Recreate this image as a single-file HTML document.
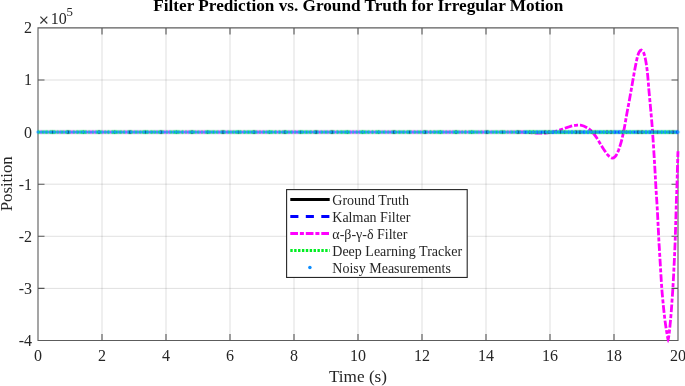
<!DOCTYPE html>
<html><head><meta charset="utf-8"><style>
html,body{margin:0;padding:0;background:#fff;}
svg{display:block;will-change:transform;}
text{font-family:"Liberation Serif",serif;fill:#262626;}
</style></head><body>
<svg width="685" height="386" viewBox="0 0 685 386">
<defs><filter id="bl" x="-1%" y="-100%" width="102%" height="300%"><feConvolveMatrix order="3" kernelMatrix="0.02 0.08 0.02 0.08 0.6 0.08 0.02 0.08 0.02" edgeMode="none"/></filter><linearGradient id="band" gradientUnits="userSpaceOnUse" x1="38.0" y1="0" x2="678.0" y2="0"><stop offset="0.00000" stop-color="#0e2"/><stop offset="0.00328" stop-color="#0e2"/><stop offset="0.00328" stop-color="#f0f"/><stop offset="0.00555" stop-color="#f0f"/><stop offset="0.00555" stop-color="#0e2"/><stop offset="0.00930" stop-color="#0e2"/><stop offset="0.00930" stop-color="#f0f"/><stop offset="0.01164" stop-color="#f0f"/><stop offset="0.01164" stop-color="#0e2"/><stop offset="0.01539" stop-color="#0e2"/><stop offset="0.01539" stop-color="#f0f"/><stop offset="0.01766" stop-color="#f0f"/><stop offset="0.01766" stop-color="#0e2"/><stop offset="0.02141" stop-color="#0e2"/><stop offset="0.02141" stop-color="#000"/><stop offset="0.02375" stop-color="#000"/><stop offset="0.02375" stop-color="#0e2"/><stop offset="0.02750" stop-color="#0e2"/><stop offset="0.02750" stop-color="#f0f"/><stop offset="0.02984" stop-color="#f0f"/><stop offset="0.02984" stop-color="#0e2"/><stop offset="0.03359" stop-color="#0e2"/><stop offset="0.03359" stop-color="#f0f"/><stop offset="0.03586" stop-color="#f0f"/><stop offset="0.03586" stop-color="#0e2"/><stop offset="0.03961" stop-color="#0e2"/><stop offset="0.03961" stop-color="#f0f"/><stop offset="0.04195" stop-color="#f0f"/><stop offset="0.04195" stop-color="#0e2"/><stop offset="0.04570" stop-color="#0e2"/><stop offset="0.04570" stop-color="#000"/><stop offset="0.04797" stop-color="#000"/><stop offset="0.04797" stop-color="#0e2"/><stop offset="0.05172" stop-color="#0e2"/><stop offset="0.05172" stop-color="#f0f"/><stop offset="0.05406" stop-color="#f0f"/><stop offset="0.05406" stop-color="#0e2"/><stop offset="0.05781" stop-color="#0e2"/><stop offset="0.05781" stop-color="#f0f"/><stop offset="0.06008" stop-color="#f0f"/><stop offset="0.06008" stop-color="#0e2"/><stop offset="0.06391" stop-color="#0e2"/><stop offset="0.06391" stop-color="#f0f"/><stop offset="0.06617" stop-color="#f0f"/><stop offset="0.06617" stop-color="#0e2"/><stop offset="0.06992" stop-color="#0e2"/><stop offset="0.06992" stop-color="#000"/><stop offset="0.07227" stop-color="#000"/><stop offset="0.07227" stop-color="#0e2"/><stop offset="0.07602" stop-color="#0e2"/><stop offset="0.07602" stop-color="#f0f"/><stop offset="0.07828" stop-color="#f0f"/><stop offset="0.07828" stop-color="#0e2"/><stop offset="0.08203" stop-color="#0e2"/><stop offset="0.08203" stop-color="#f0f"/><stop offset="0.08438" stop-color="#f0f"/><stop offset="0.08438" stop-color="#0e2"/><stop offset="0.08813" stop-color="#0e2"/><stop offset="0.08813" stop-color="#f0f"/><stop offset="0.09039" stop-color="#f0f"/><stop offset="0.09039" stop-color="#0e2"/><stop offset="0.09414" stop-color="#0e2"/><stop offset="0.09414" stop-color="#000"/><stop offset="0.09648" stop-color="#000"/><stop offset="0.09648" stop-color="#0e2"/><stop offset="0.10023" stop-color="#0e2"/><stop offset="0.10023" stop-color="#f0f"/><stop offset="0.10258" stop-color="#f0f"/><stop offset="0.10258" stop-color="#0e2"/><stop offset="0.10633" stop-color="#0e2"/><stop offset="0.10633" stop-color="#f0f"/><stop offset="0.10859" stop-color="#f0f"/><stop offset="0.10859" stop-color="#0e2"/><stop offset="0.11234" stop-color="#0e2"/><stop offset="0.11234" stop-color="#f0f"/><stop offset="0.11469" stop-color="#f0f"/><stop offset="0.11469" stop-color="#0e2"/><stop offset="0.11844" stop-color="#0e2"/><stop offset="0.11844" stop-color="#000"/><stop offset="0.12070" stop-color="#000"/><stop offset="0.12070" stop-color="#0e2"/><stop offset="0.12445" stop-color="#0e2"/><stop offset="0.12445" stop-color="#f0f"/><stop offset="0.12680" stop-color="#f0f"/><stop offset="0.12680" stop-color="#0e2"/><stop offset="0.13055" stop-color="#0e2"/><stop offset="0.13055" stop-color="#f0f"/><stop offset="0.13281" stop-color="#f0f"/><stop offset="0.13281" stop-color="#0e2"/><stop offset="0.13656" stop-color="#0e2"/><stop offset="0.13656" stop-color="#f0f"/><stop offset="0.13891" stop-color="#f0f"/><stop offset="0.13891" stop-color="#0e2"/><stop offset="0.14266" stop-color="#0e2"/><stop offset="0.14266" stop-color="#000"/><stop offset="0.14500" stop-color="#000"/><stop offset="0.14500" stop-color="#0e2"/><stop offset="0.14875" stop-color="#0e2"/><stop offset="0.14875" stop-color="#f0f"/><stop offset="0.15102" stop-color="#f0f"/><stop offset="0.15102" stop-color="#0e2"/><stop offset="0.15477" stop-color="#0e2"/><stop offset="0.15477" stop-color="#f0f"/><stop offset="0.15711" stop-color="#f0f"/><stop offset="0.15711" stop-color="#0e2"/><stop offset="0.16086" stop-color="#0e2"/><stop offset="0.16086" stop-color="#f0f"/><stop offset="0.16313" stop-color="#f0f"/><stop offset="0.16313" stop-color="#0e2"/><stop offset="0.16688" stop-color="#0e2"/><stop offset="0.16688" stop-color="#000"/><stop offset="0.16922" stop-color="#000"/><stop offset="0.16922" stop-color="#0e2"/><stop offset="0.17297" stop-color="#0e2"/><stop offset="0.17297" stop-color="#f0f"/><stop offset="0.17531" stop-color="#f0f"/><stop offset="0.17531" stop-color="#0e2"/><stop offset="0.17906" stop-color="#0e2"/><stop offset="0.17906" stop-color="#f0f"/><stop offset="0.18133" stop-color="#f0f"/><stop offset="0.18133" stop-color="#0e2"/><stop offset="0.18508" stop-color="#0e2"/><stop offset="0.18508" stop-color="#f0f"/><stop offset="0.18742" stop-color="#f0f"/><stop offset="0.18742" stop-color="#0e2"/><stop offset="0.19117" stop-color="#0e2"/><stop offset="0.19117" stop-color="#000"/><stop offset="0.19344" stop-color="#000"/><stop offset="0.19344" stop-color="#0e2"/><stop offset="0.19719" stop-color="#0e2"/><stop offset="0.19719" stop-color="#f0f"/><stop offset="0.19953" stop-color="#f0f"/><stop offset="0.19953" stop-color="#0e2"/><stop offset="0.20328" stop-color="#0e2"/><stop offset="0.20328" stop-color="#f0f"/><stop offset="0.20555" stop-color="#f0f"/><stop offset="0.20555" stop-color="#0e2"/><stop offset="0.20930" stop-color="#0e2"/><stop offset="0.20930" stop-color="#f0f"/><stop offset="0.21164" stop-color="#f0f"/><stop offset="0.21164" stop-color="#0e2"/><stop offset="0.21539" stop-color="#0e2"/><stop offset="0.21539" stop-color="#000"/><stop offset="0.21773" stop-color="#000"/><stop offset="0.21773" stop-color="#0e2"/><stop offset="0.22148" stop-color="#0e2"/><stop offset="0.22148" stop-color="#f0f"/><stop offset="0.22375" stop-color="#f0f"/><stop offset="0.22375" stop-color="#0e2"/><stop offset="0.22750" stop-color="#0e2"/><stop offset="0.22750" stop-color="#f0f"/><stop offset="0.22984" stop-color="#f0f"/><stop offset="0.22984" stop-color="#0e2"/><stop offset="0.23359" stop-color="#0e2"/><stop offset="0.23359" stop-color="#f0f"/><stop offset="0.23586" stop-color="#f0f"/><stop offset="0.23586" stop-color="#0e2"/><stop offset="0.23961" stop-color="#0e2"/><stop offset="0.23961" stop-color="#000"/><stop offset="0.24195" stop-color="#000"/><stop offset="0.24195" stop-color="#0e2"/><stop offset="0.24570" stop-color="#0e2"/><stop offset="0.24570" stop-color="#f0f"/><stop offset="0.24797" stop-color="#f0f"/><stop offset="0.24797" stop-color="#0e2"/><stop offset="0.25172" stop-color="#0e2"/><stop offset="0.25172" stop-color="#f0f"/><stop offset="0.25406" stop-color="#f0f"/><stop offset="0.25406" stop-color="#0e2"/><stop offset="0.25781" stop-color="#0e2"/><stop offset="0.25781" stop-color="#f0f"/><stop offset="0.26016" stop-color="#f0f"/><stop offset="0.26016" stop-color="#0e2"/><stop offset="0.26391" stop-color="#0e2"/><stop offset="0.26391" stop-color="#000"/><stop offset="0.26617" stop-color="#000"/><stop offset="0.26617" stop-color="#0e2"/><stop offset="0.26992" stop-color="#0e2"/><stop offset="0.26992" stop-color="#f0f"/><stop offset="0.27227" stop-color="#f0f"/><stop offset="0.27227" stop-color="#0e2"/><stop offset="0.27602" stop-color="#0e2"/><stop offset="0.27602" stop-color="#f0f"/><stop offset="0.27828" stop-color="#f0f"/><stop offset="0.27828" stop-color="#0e2"/><stop offset="0.28203" stop-color="#0e2"/><stop offset="0.28203" stop-color="#f0f"/><stop offset="0.28437" stop-color="#f0f"/><stop offset="0.28437" stop-color="#0e2"/><stop offset="0.28813" stop-color="#0e2"/><stop offset="0.28813" stop-color="#000"/><stop offset="0.29047" stop-color="#000"/><stop offset="0.29047" stop-color="#0e2"/><stop offset="0.29422" stop-color="#0e2"/><stop offset="0.29422" stop-color="#f0f"/><stop offset="0.29648" stop-color="#f0f"/><stop offset="0.29648" stop-color="#0e2"/><stop offset="0.30023" stop-color="#0e2"/><stop offset="0.30023" stop-color="#f0f"/><stop offset="0.30258" stop-color="#f0f"/><stop offset="0.30258" stop-color="#0e2"/><stop offset="0.30633" stop-color="#0e2"/><stop offset="0.30633" stop-color="#f0f"/><stop offset="0.30859" stop-color="#f0f"/><stop offset="0.30859" stop-color="#0e2"/><stop offset="0.31234" stop-color="#0e2"/><stop offset="0.31234" stop-color="#000"/><stop offset="0.31469" stop-color="#000"/><stop offset="0.31469" stop-color="#0e2"/><stop offset="0.31844" stop-color="#0e2"/><stop offset="0.31844" stop-color="#f0f"/><stop offset="0.32070" stop-color="#f0f"/><stop offset="0.32070" stop-color="#0e2"/><stop offset="0.32445" stop-color="#0e2"/><stop offset="0.32445" stop-color="#f0f"/><stop offset="0.32680" stop-color="#f0f"/><stop offset="0.32680" stop-color="#0e2"/><stop offset="0.33055" stop-color="#0e2"/><stop offset="0.33055" stop-color="#f0f"/><stop offset="0.33289" stop-color="#f0f"/><stop offset="0.33289" stop-color="#0e2"/><stop offset="0.33664" stop-color="#0e2"/><stop offset="0.33664" stop-color="#000"/><stop offset="0.33891" stop-color="#000"/><stop offset="0.33891" stop-color="#0e2"/><stop offset="0.34266" stop-color="#0e2"/><stop offset="0.34266" stop-color="#f0f"/><stop offset="0.34500" stop-color="#f0f"/><stop offset="0.34500" stop-color="#0e2"/><stop offset="0.34875" stop-color="#0e2"/><stop offset="0.34875" stop-color="#f0f"/><stop offset="0.35102" stop-color="#f0f"/><stop offset="0.35102" stop-color="#0e2"/><stop offset="0.35477" stop-color="#0e2"/><stop offset="0.35477" stop-color="#f0f"/><stop offset="0.35711" stop-color="#f0f"/><stop offset="0.35711" stop-color="#0e2"/><stop offset="0.36086" stop-color="#0e2"/><stop offset="0.36086" stop-color="#000"/><stop offset="0.36320" stop-color="#000"/><stop offset="0.36320" stop-color="#0e2"/><stop offset="0.36688" stop-color="#0e2"/><stop offset="0.36688" stop-color="#f0f"/><stop offset="0.36922" stop-color="#f0f"/><stop offset="0.36922" stop-color="#0e2"/><stop offset="0.37297" stop-color="#0e2"/><stop offset="0.37297" stop-color="#f0f"/><stop offset="0.37531" stop-color="#f0f"/><stop offset="0.37531" stop-color="#0e2"/><stop offset="0.37906" stop-color="#0e2"/><stop offset="0.37906" stop-color="#f0f"/><stop offset="0.38133" stop-color="#f0f"/><stop offset="0.38133" stop-color="#0e2"/><stop offset="0.38508" stop-color="#0e2"/><stop offset="0.38508" stop-color="#000"/><stop offset="0.38742" stop-color="#000"/><stop offset="0.38742" stop-color="#0e2"/><stop offset="0.39117" stop-color="#0e2"/><stop offset="0.39117" stop-color="#f0f"/><stop offset="0.39344" stop-color="#f0f"/><stop offset="0.39344" stop-color="#0e2"/><stop offset="0.39719" stop-color="#0e2"/><stop offset="0.39719" stop-color="#f0f"/><stop offset="0.39953" stop-color="#f0f"/><stop offset="0.39953" stop-color="#0e2"/><stop offset="0.40328" stop-color="#0e2"/><stop offset="0.40328" stop-color="#f0f"/><stop offset="0.40563" stop-color="#f0f"/><stop offset="0.40563" stop-color="#0e2"/><stop offset="0.40937" stop-color="#0e2"/><stop offset="0.40937" stop-color="#000"/><stop offset="0.41164" stop-color="#000"/><stop offset="0.41164" stop-color="#0e2"/><stop offset="0.41539" stop-color="#0e2"/><stop offset="0.41539" stop-color="#f0f"/><stop offset="0.41773" stop-color="#f0f"/><stop offset="0.41773" stop-color="#0e2"/><stop offset="0.42148" stop-color="#0e2"/><stop offset="0.42148" stop-color="#f0f"/><stop offset="0.42375" stop-color="#f0f"/><stop offset="0.42375" stop-color="#0e2"/><stop offset="0.42750" stop-color="#0e2"/><stop offset="0.42750" stop-color="#f0f"/><stop offset="0.42984" stop-color="#f0f"/><stop offset="0.42984" stop-color="#0e2"/><stop offset="0.43359" stop-color="#0e2"/><stop offset="0.43359" stop-color="#000"/><stop offset="0.43586" stop-color="#000"/><stop offset="0.43586" stop-color="#0e2"/><stop offset="0.43961" stop-color="#0e2"/><stop offset="0.43961" stop-color="#f0f"/><stop offset="0.44195" stop-color="#f0f"/><stop offset="0.44195" stop-color="#0e2"/><stop offset="0.44570" stop-color="#0e2"/><stop offset="0.44570" stop-color="#f0f"/><stop offset="0.44805" stop-color="#f0f"/><stop offset="0.44805" stop-color="#0e2"/><stop offset="0.45180" stop-color="#0e2"/><stop offset="0.45180" stop-color="#f0f"/><stop offset="0.45406" stop-color="#f0f"/><stop offset="0.45406" stop-color="#0e2"/><stop offset="0.45781" stop-color="#0e2"/><stop offset="0.45781" stop-color="#000"/><stop offset="0.46016" stop-color="#000"/><stop offset="0.46016" stop-color="#0e2"/><stop offset="0.46391" stop-color="#0e2"/><stop offset="0.46391" stop-color="#f0f"/><stop offset="0.46617" stop-color="#f0f"/><stop offset="0.46617" stop-color="#0e2"/><stop offset="0.46992" stop-color="#0e2"/><stop offset="0.46992" stop-color="#f0f"/><stop offset="0.47227" stop-color="#f0f"/><stop offset="0.47227" stop-color="#0e2"/><stop offset="0.47602" stop-color="#0e2"/><stop offset="0.47602" stop-color="#f0f"/><stop offset="0.47836" stop-color="#f0f"/><stop offset="0.47836" stop-color="#0e2"/><stop offset="0.48211" stop-color="#0e2"/><stop offset="0.48211" stop-color="#000"/><stop offset="0.48438" stop-color="#000"/><stop offset="0.48438" stop-color="#0e2"/><stop offset="0.48813" stop-color="#0e2"/><stop offset="0.48813" stop-color="#f0f"/><stop offset="0.49047" stop-color="#f0f"/><stop offset="0.49047" stop-color="#0e2"/><stop offset="0.49422" stop-color="#0e2"/><stop offset="0.49422" stop-color="#f0f"/><stop offset="0.49648" stop-color="#f0f"/><stop offset="0.49648" stop-color="#0e2"/><stop offset="0.50023" stop-color="#0e2"/><stop offset="0.50023" stop-color="#f0f"/><stop offset="0.50258" stop-color="#f0f"/><stop offset="0.50258" stop-color="#0e2"/><stop offset="0.50633" stop-color="#0e2"/><stop offset="0.50633" stop-color="#000"/><stop offset="0.50859" stop-color="#000"/><stop offset="0.50859" stop-color="#0e2"/><stop offset="0.51234" stop-color="#0e2"/><stop offset="0.51234" stop-color="#f0f"/><stop offset="0.51469" stop-color="#f0f"/><stop offset="0.51469" stop-color="#0e2"/><stop offset="0.51844" stop-color="#0e2"/><stop offset="0.51844" stop-color="#f0f"/><stop offset="0.52078" stop-color="#f0f"/><stop offset="0.52078" stop-color="#0e2"/><stop offset="0.52453" stop-color="#0e2"/><stop offset="0.52453" stop-color="#f0f"/><stop offset="0.52680" stop-color="#f0f"/><stop offset="0.52680" stop-color="#0e2"/><stop offset="0.53055" stop-color="#0e2"/><stop offset="0.53055" stop-color="#000"/><stop offset="0.53289" stop-color="#000"/><stop offset="0.53289" stop-color="#0e2"/><stop offset="0.53664" stop-color="#0e2"/><stop offset="0.53664" stop-color="#f0f"/><stop offset="0.53891" stop-color="#f0f"/><stop offset="0.53891" stop-color="#0e2"/><stop offset="0.54266" stop-color="#0e2"/><stop offset="0.54266" stop-color="#f0f"/><stop offset="0.54500" stop-color="#f0f"/><stop offset="0.54500" stop-color="#0e2"/><stop offset="0.54875" stop-color="#0e2"/><stop offset="0.54875" stop-color="#f0f"/><stop offset="0.55102" stop-color="#f0f"/><stop offset="0.55102" stop-color="#0e2"/><stop offset="0.55477" stop-color="#0e2"/><stop offset="0.55477" stop-color="#000"/><stop offset="0.55711" stop-color="#000"/><stop offset="0.55711" stop-color="#0e2"/><stop offset="0.56086" stop-color="#0e2"/><stop offset="0.56086" stop-color="#f0f"/><stop offset="0.56320" stop-color="#f0f"/><stop offset="0.56320" stop-color="#0e2"/><stop offset="0.56695" stop-color="#0e2"/><stop offset="0.56695" stop-color="#f0f"/><stop offset="0.56922" stop-color="#f0f"/><stop offset="0.56922" stop-color="#0e2"/><stop offset="0.57297" stop-color="#0e2"/><stop offset="0.57297" stop-color="#f0f"/><stop offset="0.57531" stop-color="#f0f"/><stop offset="0.57531" stop-color="#0e2"/><stop offset="0.57906" stop-color="#0e2"/><stop offset="0.57906" stop-color="#000"/><stop offset="0.58133" stop-color="#000"/><stop offset="0.58133" stop-color="#0e2"/><stop offset="0.58508" stop-color="#0e2"/><stop offset="0.58508" stop-color="#f0f"/><stop offset="0.58742" stop-color="#f0f"/><stop offset="0.58742" stop-color="#0e2"/><stop offset="0.59117" stop-color="#0e2"/><stop offset="0.59117" stop-color="#f0f"/><stop offset="0.59352" stop-color="#f0f"/><stop offset="0.59352" stop-color="#0e2"/><stop offset="0.59727" stop-color="#0e2"/><stop offset="0.59727" stop-color="#f0f"/><stop offset="0.59953" stop-color="#f0f"/><stop offset="0.59953" stop-color="#0e2"/><stop offset="0.60328" stop-color="#0e2"/><stop offset="0.60328" stop-color="#000"/><stop offset="0.60563" stop-color="#000"/><stop offset="0.60563" stop-color="#0e2"/><stop offset="0.60938" stop-color="#0e2"/><stop offset="0.60938" stop-color="#f0f"/><stop offset="0.61164" stop-color="#f0f"/><stop offset="0.61164" stop-color="#0e2"/><stop offset="0.61539" stop-color="#0e2"/><stop offset="0.61539" stop-color="#f0f"/><stop offset="0.61773" stop-color="#f0f"/><stop offset="0.61773" stop-color="#0e2"/><stop offset="0.62148" stop-color="#0e2"/><stop offset="0.62148" stop-color="#f0f"/><stop offset="0.62375" stop-color="#f0f"/><stop offset="0.62375" stop-color="#0e2"/><stop offset="0.62750" stop-color="#0e2"/><stop offset="0.62750" stop-color="#000"/><stop offset="0.62984" stop-color="#000"/><stop offset="0.62984" stop-color="#0e2"/><stop offset="0.63359" stop-color="#0e2"/><stop offset="0.63359" stop-color="#f0f"/><stop offset="0.63594" stop-color="#f0f"/><stop offset="0.63594" stop-color="#0e2"/><stop offset="0.63969" stop-color="#0e2"/><stop offset="0.63969" stop-color="#f0f"/><stop offset="0.64195" stop-color="#f0f"/><stop offset="0.64195" stop-color="#0e2"/><stop offset="0.64570" stop-color="#0e2"/><stop offset="0.64570" stop-color="#f0f"/><stop offset="0.64805" stop-color="#f0f"/><stop offset="0.64805" stop-color="#0e2"/><stop offset="0.65180" stop-color="#0e2"/><stop offset="0.65180" stop-color="#000"/><stop offset="0.65406" stop-color="#000"/><stop offset="0.65406" stop-color="#0e2"/><stop offset="0.65781" stop-color="#0e2"/><stop offset="0.65781" stop-color="#f0f"/><stop offset="0.66016" stop-color="#f0f"/><stop offset="0.66016" stop-color="#0e2"/><stop offset="0.66391" stop-color="#0e2"/><stop offset="0.66391" stop-color="#f0f"/><stop offset="0.66625" stop-color="#f0f"/><stop offset="0.66625" stop-color="#0e2"/><stop offset="0.67000" stop-color="#0e2"/><stop offset="0.67000" stop-color="#f0f"/><stop offset="0.67227" stop-color="#f0f"/><stop offset="0.67227" stop-color="#0e2"/><stop offset="0.67602" stop-color="#0e2"/><stop offset="0.67602" stop-color="#000"/><stop offset="0.67836" stop-color="#000"/><stop offset="0.67836" stop-color="#0e2"/><stop offset="0.68211" stop-color="#0e2"/><stop offset="0.68211" stop-color="#f0f"/><stop offset="0.68437" stop-color="#f0f"/><stop offset="0.68437" stop-color="#0e2"/><stop offset="0.68813" stop-color="#0e2"/><stop offset="0.68813" stop-color="#f0f"/><stop offset="0.69047" stop-color="#f0f"/><stop offset="0.69047" stop-color="#0e2"/><stop offset="0.69422" stop-color="#0e2"/><stop offset="0.69422" stop-color="#f0f"/><stop offset="0.69648" stop-color="#f0f"/><stop offset="0.69648" stop-color="#0e2"/><stop offset="0.70023" stop-color="#0e2"/><stop offset="0.70023" stop-color="#000"/><stop offset="0.70258" stop-color="#000"/><stop offset="0.70258" stop-color="#0e2"/><stop offset="0.70633" stop-color="#0e2"/><stop offset="0.70633" stop-color="#f0f"/><stop offset="0.70867" stop-color="#f0f"/><stop offset="0.70867" stop-color="#0e2"/><stop offset="0.71242" stop-color="#0e2"/><stop offset="0.71242" stop-color="#f0f"/><stop offset="0.71469" stop-color="#f0f"/><stop offset="0.71469" stop-color="#0e2"/><stop offset="0.71844" stop-color="#0e2"/><stop offset="0.71844" stop-color="#f0f"/><stop offset="0.72078" stop-color="#f0f"/><stop offset="0.72078" stop-color="#0e2"/><stop offset="0.72453" stop-color="#0e2"/><stop offset="0.72453" stop-color="#000"/><stop offset="0.72680" stop-color="#000"/><stop offset="0.72680" stop-color="#0e2"/><stop offset="0.73055" stop-color="#0e2"/><stop offset="0.73055" stop-color="#f0f"/><stop offset="0.73289" stop-color="#f0f"/><stop offset="0.73289" stop-color="#0e2"/><stop offset="0.73664" stop-color="#0e2"/><stop offset="0.73664" stop-color="#f0f"/><stop offset="0.73891" stop-color="#f0f"/><stop offset="0.73891" stop-color="#0e2"/><stop offset="0.74266" stop-color="#0e2"/><stop offset="0.74266" stop-color="#f0f"/><stop offset="0.74500" stop-color="#f0f"/><stop offset="0.74500" stop-color="#0e2"/><stop offset="0.74875" stop-color="#0e2"/><stop offset="0.74875" stop-color="#000"/><stop offset="0.75109" stop-color="#000"/><stop offset="0.75109" stop-color="#0e2"/><stop offset="0.75484" stop-color="#0e2"/><stop offset="0.75484" stop-color="#f0f"/><stop offset="0.75711" stop-color="#f0f"/><stop offset="0.75711" stop-color="#0e2"/><stop offset="0.76086" stop-color="#0e2"/><stop offset="0.76086" stop-color="#00f"/><stop offset="0.76320" stop-color="#00f"/><stop offset="0.76320" stop-color="#0e2"/><stop offset="0.76695" stop-color="#0e2"/><stop offset="0.76695" stop-color="#000"/><stop offset="0.76922" stop-color="#000"/><stop offset="0.76922" stop-color="#0e2"/><stop offset="0.77297" stop-color="#0e2"/><stop offset="0.77297" stop-color="#000"/><stop offset="0.77531" stop-color="#000"/><stop offset="0.77531" stop-color="#0e2"/><stop offset="0.77906" stop-color="#0e2"/><stop offset="0.77906" stop-color="#00f"/><stop offset="0.78141" stop-color="#00f"/><stop offset="0.78141" stop-color="#0e2"/><stop offset="0.78516" stop-color="#0e2"/><stop offset="0.78516" stop-color="#00f"/><stop offset="0.78742" stop-color="#00f"/><stop offset="0.78742" stop-color="#0e2"/><stop offset="0.79117" stop-color="#0e2"/><stop offset="0.79117" stop-color="#000"/><stop offset="0.79352" stop-color="#000"/><stop offset="0.79352" stop-color="#0e2"/><stop offset="0.79727" stop-color="#0e2"/><stop offset="0.79727" stop-color="#000"/><stop offset="0.79953" stop-color="#000"/><stop offset="0.79953" stop-color="#0e2"/><stop offset="0.80328" stop-color="#0e2"/><stop offset="0.80328" stop-color="#00f"/><stop offset="0.80563" stop-color="#00f"/><stop offset="0.80563" stop-color="#0e2"/><stop offset="0.80937" stop-color="#0e2"/><stop offset="0.80937" stop-color="#00f"/><stop offset="0.81164" stop-color="#00f"/><stop offset="0.81164" stop-color="#0e2"/><stop offset="0.81539" stop-color="#0e2"/><stop offset="0.81539" stop-color="#000"/><stop offset="0.81773" stop-color="#000"/><stop offset="0.81773" stop-color="#0e2"/><stop offset="0.82148" stop-color="#0e2"/><stop offset="0.82148" stop-color="#000"/><stop offset="0.82383" stop-color="#000"/><stop offset="0.82383" stop-color="#0e2"/><stop offset="0.82758" stop-color="#0e2"/><stop offset="0.82758" stop-color="#00f"/><stop offset="0.82984" stop-color="#00f"/><stop offset="0.82984" stop-color="#0e2"/><stop offset="0.83359" stop-color="#0e2"/><stop offset="0.83359" stop-color="#00f"/><stop offset="0.83594" stop-color="#00f"/><stop offset="0.83594" stop-color="#0e2"/><stop offset="0.83969" stop-color="#0e2"/><stop offset="0.83969" stop-color="#000"/><stop offset="0.84195" stop-color="#000"/><stop offset="0.84195" stop-color="#0e2"/><stop offset="0.84570" stop-color="#0e2"/><stop offset="0.84570" stop-color="#000"/><stop offset="0.84805" stop-color="#000"/><stop offset="0.84805" stop-color="#0e2"/><stop offset="0.85180" stop-color="#0e2"/><stop offset="0.85180" stop-color="#00f"/><stop offset="0.85406" stop-color="#00f"/><stop offset="0.85406" stop-color="#0e2"/><stop offset="0.85781" stop-color="#0e2"/><stop offset="0.85781" stop-color="#00f"/><stop offset="0.86016" stop-color="#00f"/><stop offset="0.86016" stop-color="#0e2"/><stop offset="0.86391" stop-color="#0e2"/><stop offset="0.86391" stop-color="#000"/><stop offset="0.86625" stop-color="#000"/><stop offset="0.86625" stop-color="#0e2"/><stop offset="0.87000" stop-color="#0e2"/><stop offset="0.87000" stop-color="#000"/><stop offset="0.87227" stop-color="#000"/><stop offset="0.87227" stop-color="#0e2"/><stop offset="0.87602" stop-color="#0e2"/><stop offset="0.87602" stop-color="#00f"/><stop offset="0.87836" stop-color="#00f"/><stop offset="0.87836" stop-color="#0e2"/><stop offset="0.88211" stop-color="#0e2"/><stop offset="0.88211" stop-color="#00f"/><stop offset="0.88438" stop-color="#00f"/><stop offset="0.88438" stop-color="#0e2"/><stop offset="0.88812" stop-color="#0e2"/><stop offset="0.88812" stop-color="#000"/><stop offset="0.89047" stop-color="#000"/><stop offset="0.89047" stop-color="#0e2"/><stop offset="0.89422" stop-color="#0e2"/><stop offset="0.89422" stop-color="#000"/><stop offset="0.89656" stop-color="#000"/><stop offset="0.89656" stop-color="#0e2"/><stop offset="0.90031" stop-color="#0e2"/><stop offset="0.90031" stop-color="#00f"/><stop offset="0.90258" stop-color="#00f"/><stop offset="0.90258" stop-color="#0e2"/><stop offset="0.90633" stop-color="#0e2"/><stop offset="0.90633" stop-color="#00f"/><stop offset="0.90867" stop-color="#00f"/><stop offset="0.90867" stop-color="#0e2"/><stop offset="0.91242" stop-color="#0e2"/><stop offset="0.91242" stop-color="#000"/><stop offset="0.91469" stop-color="#000"/><stop offset="0.91469" stop-color="#0e2"/><stop offset="0.91844" stop-color="#0e2"/><stop offset="0.91844" stop-color="#000"/><stop offset="0.92078" stop-color="#000"/><stop offset="0.92078" stop-color="#0e2"/><stop offset="0.92453" stop-color="#0e2"/><stop offset="0.92453" stop-color="#00f"/><stop offset="0.92680" stop-color="#00f"/><stop offset="0.92680" stop-color="#0e2"/><stop offset="0.93055" stop-color="#0e2"/><stop offset="0.93055" stop-color="#00f"/><stop offset="0.93289" stop-color="#00f"/><stop offset="0.93289" stop-color="#0e2"/><stop offset="0.93664" stop-color="#0e2"/><stop offset="0.93664" stop-color="#000"/><stop offset="0.93898" stop-color="#000"/><stop offset="0.93898" stop-color="#0e2"/><stop offset="0.94273" stop-color="#0e2"/><stop offset="0.94273" stop-color="#000"/><stop offset="0.94500" stop-color="#000"/><stop offset="0.94500" stop-color="#0e2"/><stop offset="0.94875" stop-color="#0e2"/><stop offset="0.94875" stop-color="#00f"/><stop offset="0.95109" stop-color="#00f"/><stop offset="0.95109" stop-color="#0e2"/><stop offset="0.95484" stop-color="#0e2"/><stop offset="0.95484" stop-color="#00f"/><stop offset="0.95711" stop-color="#00f"/><stop offset="0.95711" stop-color="#0e2"/><stop offset="0.96086" stop-color="#0e2"/><stop offset="0.96086" stop-color="#000"/><stop offset="0.96320" stop-color="#000"/><stop offset="0.96320" stop-color="#0e2"/><stop offset="0.96695" stop-color="#0e2"/><stop offset="0.96695" stop-color="#000"/><stop offset="0.96922" stop-color="#000"/><stop offset="0.96922" stop-color="#0e2"/><stop offset="0.97297" stop-color="#0e2"/><stop offset="0.97297" stop-color="#00f"/><stop offset="0.97531" stop-color="#00f"/><stop offset="0.97531" stop-color="#0e2"/><stop offset="0.97906" stop-color="#0e2"/><stop offset="0.97906" stop-color="#00f"/><stop offset="0.98141" stop-color="#00f"/><stop offset="0.98141" stop-color="#0e2"/><stop offset="0.98516" stop-color="#0e2"/><stop offset="0.98516" stop-color="#000"/><stop offset="0.98742" stop-color="#000"/><stop offset="0.98742" stop-color="#0e2"/><stop offset="0.99117" stop-color="#0e2"/><stop offset="0.99117" stop-color="#000"/><stop offset="0.99352" stop-color="#000"/><stop offset="0.99352" stop-color="#0e2"/><stop offset="0.99727" stop-color="#0e2"/><stop offset="0.99727" stop-color="#00f"/><stop offset="0.99953" stop-color="#00f"/><stop offset="0.99953" stop-color="#0e2"/><stop offset="1" stop-color="#0e2"/></linearGradient></defs>
<rect width="685" height="386" fill="#fff"/>
<path d="M102.00 27.90V340.50M166.00 27.90V340.50M230.00 27.90V340.50M294.00 27.90V340.50M358.00 27.90V340.50M422.00 27.90V340.50M486.00 27.90V340.50M550.00 27.90V340.50M614.00 27.90V340.50M38.00 80.00H678.00M38.00 132.10H678.00M38.00 184.20H678.00M38.00 236.30H678.00M38.00 288.40H678.00" stroke="#262626" stroke-opacity="0.14" stroke-width="1" fill="none"/>
<path d="M38.0 27.9H678.0V340.5H38.0ZM38.00 340.50V334.00M38.00 27.90V34.40M102.00 340.50V334.00M102.00 27.90V34.40M166.00 340.50V334.00M166.00 27.90V34.40M230.00 340.50V334.00M230.00 27.90V34.40M294.00 340.50V334.00M294.00 27.90V34.40M358.00 340.50V334.00M358.00 27.90V34.40M422.00 340.50V334.00M422.00 27.90V34.40M486.00 340.50V334.00M486.00 27.90V34.40M550.00 340.50V334.00M550.00 27.90V34.40M614.00 340.50V334.00M614.00 27.90V34.40M678.00 340.50V334.00M678.00 27.90V34.40M38.00 27.90H44.50M678.00 27.90H671.50M38.00 80.00H44.50M678.00 80.00H671.50M38.00 132.10H44.50M678.00 132.10H671.50M38.00 184.20H44.50M678.00 184.20H671.50M38.00 236.30H44.50M678.00 236.30H671.50M38.00 288.40H44.50M678.00 288.40H671.50M38.00 340.50H44.50M678.00 340.50H671.50" stroke="#262626" stroke-width="1.1" fill="none" opacity="0.75"/>
<polyline points="516.80,132.02 518.00,132.05 519.50,132.09 520.94,132.15 522.32,132.20 523.67,132.27 524.99,132.34 526.31,132.41 527.64,132.48 529.00,132.55 530.39,132.63 531.79,132.73 533.20,132.84 534.61,132.94 536.00,133.04 537.37,133.12 538.71,133.18 540.00,133.20 541.43,133.19 542.83,133.16 544.20,133.10 545.52,133.02 546.79,132.92 548.00,132.80 549.34,132.64 550.58,132.46 551.78,132.25 553.00,132.00 554.24,131.70 555.48,131.36 556.72,130.99 558.00,130.60 559.18,130.23 560.41,129.83 561.64,129.41 562.85,129.00 564.00,128.60 565.18,128.18 566.31,127.77 567.41,127.37 568.50,127.00 569.82,126.59 571.12,126.22 572.40,125.90 573.62,125.65 574.83,125.45 576.00,125.30 577.03,125.19 578.03,125.12 579.00,125.10 580.23,125.15 581.50,125.35 582.81,125.73 584.22,126.27 585.60,126.90 586.61,127.42 587.61,128.00 588.58,128.63 589.50,129.30 590.59,130.26 591.61,131.29 592.60,132.40 593.40,133.34 594.18,134.32 594.94,135.34 595.70,136.40 596.50,137.58 597.28,138.82 598.05,140.07 598.80,141.30 599.49,142.43 600.15,143.56 600.82,144.67 601.50,145.80 602.23,146.98 602.98,148.17 603.73,149.35 604.50,150.50 605.24,151.58 605.98,152.65 606.74,153.67 607.50,154.60 608.38,155.59 609.28,156.49 610.20,157.20 611.39,157.86 612.60,158.10 613.49,157.85 614.37,157.32 615.20,156.60 615.96,155.64 616.65,154.45 617.29,153.13 617.90,151.80 618.40,150.63 618.86,149.40 619.29,148.14 619.70,146.86 620.10,145.60 620.49,144.35 620.87,143.09 621.23,141.83 621.57,140.56 621.90,139.30 622.21,138.04 622.49,136.79 622.77,135.53 623.03,134.27 623.30,133.00 623.56,131.74 623.82,130.50 624.07,129.24 624.33,127.92 624.60,126.50 624.83,125.22 625.07,123.86 625.32,122.44 625.57,120.98 625.82,119.48 626.08,117.97 626.34,116.48 626.60,115.00 626.85,113.66 627.10,112.31 627.35,110.96 627.61,109.60 627.87,108.25 628.13,106.88 628.39,105.52 628.65,104.16 628.90,102.80 629.15,101.44 629.40,100.07 629.64,98.70 629.89,97.33 630.13,95.96 630.38,94.59 630.62,93.22 630.86,91.86 631.10,90.50 631.34,89.15 631.58,87.78 631.82,86.40 632.06,85.02 632.30,83.66 632.53,82.32 632.76,81.00 632.99,79.73 633.20,78.50 633.45,77.07 633.68,75.71 633.91,74.40 634.13,73.11 634.36,71.81 634.60,70.50 634.85,69.16 635.11,67.81 635.38,66.46 635.65,65.12 635.92,63.80 636.20,62.50 636.50,61.04 636.80,59.56 637.11,58.13 637.44,56.76 637.80,55.50 638.31,53.99 638.85,52.62 639.50,51.50 640.37,50.48 641.30,50.00 642.29,50.60 643.20,51.80 643.69,52.77 644.10,53.92 644.46,55.19 644.80,56.50 645.12,57.80 645.42,59.17 645.69,60.59 645.95,62.04 646.20,63.50 646.41,64.80 646.61,66.11 646.79,67.45 646.97,68.79 647.14,70.14 647.30,71.50 647.45,72.89 647.59,74.29 647.72,75.69 647.85,77.10 647.97,78.54 648.10,80.00 648.22,81.37 648.33,82.76 648.44,84.16 648.54,85.58 648.66,87.02 648.77,88.50 648.90,90.00 649.02,91.37 649.15,92.78 649.28,94.23 649.42,95.69 649.55,97.16 649.69,98.64 649.83,100.11 649.97,101.57 650.10,103.00 650.23,104.35 650.35,105.70 650.47,107.04 650.60,108.37 650.72,109.69 650.84,111.02 650.96,112.34 651.08,113.67 651.20,115.00 651.32,116.33 651.43,117.66 651.55,118.98 651.66,120.31 651.77,121.63 651.88,122.96 651.99,124.30 652.10,125.65 652.20,127.00 652.31,128.42 652.41,129.86 652.51,131.30 652.61,132.76 652.71,134.21 652.81,135.67 652.91,137.12 653.00,138.56 653.10,140.00 653.19,141.40 653.28,142.79 653.37,144.18 653.46,145.56 653.55,146.94 653.64,148.32 653.72,149.71 653.81,151.10 653.90,152.50 653.99,153.93 654.08,155.38 654.17,156.82 654.26,158.27 654.35,159.73 654.44,161.18 654.53,162.62 654.62,164.07 654.70,165.50 654.78,166.90 654.86,168.29 654.94,169.68 655.02,171.07 655.09,172.46 655.17,173.84 655.25,175.23 655.32,176.61 655.40,178.00 655.48,179.39 655.55,180.80 655.63,182.21 655.71,183.62 655.78,185.02 655.86,186.41 655.94,187.80 656.02,189.16 656.10,190.50 656.19,191.86 656.27,193.20 656.36,194.52 656.45,195.82 656.54,197.12 656.63,198.41 656.72,199.71 656.80,201.00 656.89,202.44 656.98,203.87 657.07,205.30 657.15,206.73 657.24,208.15 657.32,209.57 657.40,211.00 657.48,212.43 657.55,213.86 657.62,215.29 657.69,216.71 657.76,218.14 657.83,219.57 657.90,221.00 657.97,222.43 658.04,223.86 658.11,225.29 658.19,226.71 658.26,228.14 658.33,229.57 658.40,231.00 658.47,232.43 658.54,233.86 658.61,235.29 658.68,236.71 658.75,238.14 658.82,239.57 658.90,241.00 658.98,242.43 659.06,243.86 659.15,245.29 659.24,246.71 659.33,248.14 659.41,249.57 659.50,251.00 659.59,252.43 659.67,253.86 659.76,255.29 659.84,256.71 659.93,258.14 660.01,259.57 660.10,261.00 660.19,262.43 660.27,263.86 660.36,265.29 660.44,266.71 660.53,268.14 660.61,269.57 660.70,271.00 660.78,272.43 660.87,273.86 660.95,275.29 661.04,276.71 661.12,278.14 661.21,279.57 661.30,281.00 661.39,282.43 661.49,283.86 661.58,285.29 661.68,286.72 661.78,288.14 661.89,289.57 662.00,291.00 662.12,292.43 662.24,293.86 662.37,295.29 662.50,296.72 662.63,298.14 662.76,299.57 662.90,301.00 663.04,302.43 663.17,303.87 663.31,305.30 663.46,306.73 663.60,308.16 663.75,309.59 663.90,311.00 664.05,312.37 664.20,313.74 664.35,315.10 664.51,316.46 664.66,317.81 664.83,319.16 665.00,320.50 665.17,321.81 665.36,323.13 665.54,324.45 665.73,325.76 665.92,327.04 666.11,328.29 666.30,329.50 666.52,330.90 666.75,332.28 666.97,333.60 667.19,334.85 667.40,336.00 667.64,337.47 667.87,338.81 668.10,339.40 668.34,338.81 668.57,337.47 668.80,336.00 668.97,334.85 669.13,333.60 669.29,332.28 669.45,330.90 669.60,329.50 669.73,328.29 669.86,327.04 670.00,325.76 670.12,324.45 670.25,323.13 670.38,321.81 670.50,320.50 670.62,319.16 670.74,317.81 670.86,316.46 670.97,315.10 671.08,313.74 671.19,312.37 671.30,311.00 671.41,309.59 671.51,308.16 671.61,306.73 671.71,305.30 671.80,303.86 671.90,302.43 672.00,301.00 672.10,299.57 672.20,298.14 672.31,296.71 672.41,295.29 672.51,293.86 672.61,292.43 672.70,291.00 672.79,289.57 672.88,288.14 672.97,286.71 673.06,285.29 673.14,283.86 673.22,282.43 673.30,281.00 673.38,279.57 673.45,278.14 673.52,276.71 673.59,275.29 673.66,273.86 673.73,272.43 673.80,271.00 673.87,269.58 673.94,268.16 674.02,266.74 674.09,265.32 674.16,263.89 674.23,262.45 674.30,261.00 674.36,259.65 674.43,258.27 674.49,256.89 674.56,255.50 674.62,254.11 674.68,252.73 674.74,251.35 674.80,250.00 674.86,248.54 674.92,247.10 674.98,245.67 675.04,244.24 675.09,242.82 675.15,241.41 675.20,240.00 675.25,238.63 675.29,237.28 675.34,235.92 675.38,234.58 675.42,233.23 675.46,231.87 675.50,230.50 675.54,229.08 675.59,227.66 675.63,226.23 675.67,224.80 675.71,223.36 675.76,221.93 675.80,220.50 675.84,219.07 675.89,217.64 675.93,216.21 675.97,214.79 676.01,213.36 676.06,211.93 676.10,210.50 676.14,209.07 676.18,207.64 676.22,206.21 676.26,204.79 676.31,203.36 676.35,201.93 676.40,200.50 676.45,199.07 676.51,197.64 676.57,196.21 676.63,194.79 676.69,193.36 676.75,191.93 676.80,190.50 676.85,189.07 676.89,187.65 676.94,186.23 676.98,184.80 677.02,183.37 677.06,181.94 677.10,180.50 677.14,179.20 677.18,177.89 677.21,176.57 677.25,175.25 677.29,173.93 677.32,172.61 677.36,171.30 677.40,170.00 677.44,168.55 677.48,167.11 677.53,165.66 677.57,164.23 677.61,162.80 677.66,161.39 677.70,160.00 677.75,158.50 677.80,157.02 677.85,155.56 677.90,154.11 677.95,152.66 678.00,151.20" fill="none" stroke="#f0f" stroke-width="2.8" stroke-dasharray="7.7 1.93 4 1.886" stroke-dashoffset="478.80"/>
<g filter="url(#bl)"><rect x="38.0" y="130.35" width="640.0" height="3.5" fill="url(#band)"/>
<g fill="#0c98ff"><circle cx="38.00" cy="132.10" r="1.5"/><circle cx="41.22" cy="132.10" r="1.5"/><circle cx="44.43" cy="132.10" r="1.5"/><circle cx="47.65" cy="132.10" r="1.5"/><circle cx="50.86" cy="132.10" r="1.5"/><circle cx="54.08" cy="132.10" r="1.5"/><circle cx="57.30" cy="132.10" r="1.5"/><circle cx="60.51" cy="132.10" r="1.5"/><circle cx="63.73" cy="132.10" r="1.5"/><circle cx="66.94" cy="132.10" r="1.5"/><circle cx="70.16" cy="132.10" r="1.5"/><circle cx="73.38" cy="132.10" r="1.5"/><circle cx="76.59" cy="132.10" r="1.5"/><circle cx="79.81" cy="132.10" r="1.5"/><circle cx="83.03" cy="132.10" r="1.5"/><circle cx="86.24" cy="132.10" r="1.5"/><circle cx="89.46" cy="132.10" r="1.5"/><circle cx="92.67" cy="132.10" r="1.5"/><circle cx="95.89" cy="132.10" r="1.5"/><circle cx="99.11" cy="132.10" r="1.5"/><circle cx="102.32" cy="132.10" r="1.5"/><circle cx="105.54" cy="132.10" r="1.5"/><circle cx="108.75" cy="132.10" r="1.5"/><circle cx="111.97" cy="132.10" r="1.5"/><circle cx="115.19" cy="132.10" r="1.5"/><circle cx="118.40" cy="132.10" r="1.5"/><circle cx="121.62" cy="132.10" r="1.5"/><circle cx="124.83" cy="132.10" r="1.5"/><circle cx="128.05" cy="132.10" r="1.5"/><circle cx="131.27" cy="132.10" r="1.5"/><circle cx="134.48" cy="132.10" r="1.5"/><circle cx="137.70" cy="132.10" r="1.5"/><circle cx="140.91" cy="132.10" r="1.5"/><circle cx="144.13" cy="132.10" r="1.5"/><circle cx="147.35" cy="132.10" r="1.5"/><circle cx="150.56" cy="132.10" r="1.5"/><circle cx="153.78" cy="132.10" r="1.5"/><circle cx="156.99" cy="132.10" r="1.5"/><circle cx="160.21" cy="132.10" r="1.5"/><circle cx="163.43" cy="132.10" r="1.5"/><circle cx="166.64" cy="132.10" r="1.5"/><circle cx="169.86" cy="132.10" r="1.5"/><circle cx="173.08" cy="132.10" r="1.5"/><circle cx="176.29" cy="132.10" r="1.5"/><circle cx="179.51" cy="132.10" r="1.5"/><circle cx="182.72" cy="132.10" r="1.5"/><circle cx="185.94" cy="132.10" r="1.5"/><circle cx="189.16" cy="132.10" r="1.5"/><circle cx="192.37" cy="132.10" r="1.5"/><circle cx="195.59" cy="132.10" r="1.5"/><circle cx="198.80" cy="132.10" r="1.5"/><circle cx="202.02" cy="132.10" r="1.5"/><circle cx="205.24" cy="132.10" r="1.5"/><circle cx="208.45" cy="132.10" r="1.5"/><circle cx="211.67" cy="132.10" r="1.5"/><circle cx="214.88" cy="132.10" r="1.5"/><circle cx="218.10" cy="132.10" r="1.5"/><circle cx="221.32" cy="132.10" r="1.5"/><circle cx="224.53" cy="132.10" r="1.5"/><circle cx="227.75" cy="132.10" r="1.5"/><circle cx="230.96" cy="132.10" r="1.5"/><circle cx="234.18" cy="132.10" r="1.5"/><circle cx="237.40" cy="132.10" r="1.5"/><circle cx="240.61" cy="132.10" r="1.5"/><circle cx="243.83" cy="132.10" r="1.5"/><circle cx="247.05" cy="132.10" r="1.5"/><circle cx="250.26" cy="132.10" r="1.5"/><circle cx="253.48" cy="132.10" r="1.5"/><circle cx="256.69" cy="132.10" r="1.5"/><circle cx="259.91" cy="132.10" r="1.5"/><circle cx="263.13" cy="132.10" r="1.5"/><circle cx="266.34" cy="132.10" r="1.5"/><circle cx="269.56" cy="132.10" r="1.5"/><circle cx="272.77" cy="132.10" r="1.5"/><circle cx="275.99" cy="132.10" r="1.5"/><circle cx="279.21" cy="132.10" r="1.5"/><circle cx="282.42" cy="132.10" r="1.5"/><circle cx="285.64" cy="132.10" r="1.5"/><circle cx="288.85" cy="132.10" r="1.5"/><circle cx="292.07" cy="132.10" r="1.5"/><circle cx="295.29" cy="132.10" r="1.5"/><circle cx="298.50" cy="132.10" r="1.5"/><circle cx="301.72" cy="132.10" r="1.5"/><circle cx="304.93" cy="132.10" r="1.5"/><circle cx="308.15" cy="132.10" r="1.5"/><circle cx="311.37" cy="132.10" r="1.5"/><circle cx="314.58" cy="132.10" r="1.5"/><circle cx="317.80" cy="132.10" r="1.5"/><circle cx="321.02" cy="132.10" r="1.5"/><circle cx="324.23" cy="132.10" r="1.5"/><circle cx="327.45" cy="132.10" r="1.5"/><circle cx="330.66" cy="132.10" r="1.5"/><circle cx="333.88" cy="132.10" r="1.5"/><circle cx="337.10" cy="132.10" r="1.5"/><circle cx="340.31" cy="132.10" r="1.5"/><circle cx="343.53" cy="132.10" r="1.5"/><circle cx="346.74" cy="132.10" r="1.5"/><circle cx="349.96" cy="132.10" r="1.5"/><circle cx="353.18" cy="132.10" r="1.5"/><circle cx="356.39" cy="132.10" r="1.5"/><circle cx="359.61" cy="132.10" r="1.5"/><circle cx="362.82" cy="132.10" r="1.5"/><circle cx="366.04" cy="132.10" r="1.5"/><circle cx="369.26" cy="132.10" r="1.5"/><circle cx="372.47" cy="132.10" r="1.5"/><circle cx="375.69" cy="132.10" r="1.5"/><circle cx="378.90" cy="132.10" r="1.5"/><circle cx="382.12" cy="132.10" r="1.5"/><circle cx="385.34" cy="132.10" r="1.5"/><circle cx="388.55" cy="132.10" r="1.5"/><circle cx="391.77" cy="132.10" r="1.5"/><circle cx="394.98" cy="132.10" r="1.5"/><circle cx="398.20" cy="132.10" r="1.5"/><circle cx="401.42" cy="132.10" r="1.5"/><circle cx="404.63" cy="132.10" r="1.5"/><circle cx="407.85" cy="132.10" r="1.5"/><circle cx="411.07" cy="132.10" r="1.5"/><circle cx="414.28" cy="132.10" r="1.5"/><circle cx="417.50" cy="132.10" r="1.5"/><circle cx="420.71" cy="132.10" r="1.5"/><circle cx="423.93" cy="132.10" r="1.5"/><circle cx="427.15" cy="132.10" r="1.5"/><circle cx="430.36" cy="132.10" r="1.5"/><circle cx="433.58" cy="132.10" r="1.5"/><circle cx="436.79" cy="132.10" r="1.5"/><circle cx="440.01" cy="132.10" r="1.5"/><circle cx="443.23" cy="132.10" r="1.5"/><circle cx="446.44" cy="132.10" r="1.5"/><circle cx="449.66" cy="132.10" r="1.5"/><circle cx="452.87" cy="132.10" r="1.5"/><circle cx="456.09" cy="132.10" r="1.5"/><circle cx="459.31" cy="132.10" r="1.5"/><circle cx="462.52" cy="132.10" r="1.5"/><circle cx="465.74" cy="132.10" r="1.5"/><circle cx="468.95" cy="132.10" r="1.5"/><circle cx="472.17" cy="132.10" r="1.5"/><circle cx="475.39" cy="132.10" r="1.5"/><circle cx="478.60" cy="132.10" r="1.5"/><circle cx="481.82" cy="132.10" r="1.5"/><circle cx="485.04" cy="132.10" r="1.5"/><circle cx="488.25" cy="132.10" r="1.5"/><circle cx="491.47" cy="132.10" r="1.5"/><circle cx="494.68" cy="132.10" r="1.5"/><circle cx="497.90" cy="132.10" r="1.5"/><circle cx="501.12" cy="132.10" r="1.5"/><circle cx="504.33" cy="132.10" r="1.5"/><circle cx="507.55" cy="132.10" r="1.5"/><circle cx="510.76" cy="132.10" r="1.5"/><circle cx="513.98" cy="132.10" r="1.5"/><circle cx="517.20" cy="132.10" r="1.5"/><circle cx="520.41" cy="132.10" r="1.5"/><circle cx="523.63" cy="132.10" r="1.5"/><circle cx="526.84" cy="132.10" r="1.5"/><circle cx="530.06" cy="132.10" r="1.5"/><circle cx="533.28" cy="132.10" r="1.5"/><circle cx="536.49" cy="132.10" r="1.5"/><circle cx="539.71" cy="132.10" r="1.5"/><circle cx="542.92" cy="132.10" r="1.5"/><circle cx="546.14" cy="132.10" r="1.5"/><circle cx="549.36" cy="132.10" r="1.5"/><circle cx="552.57" cy="132.10" r="1.5"/><circle cx="555.79" cy="132.10" r="1.5"/><circle cx="559.01" cy="132.10" r="1.5"/><circle cx="562.22" cy="132.10" r="1.5"/><circle cx="565.44" cy="132.10" r="1.5"/><circle cx="568.65" cy="132.10" r="1.5"/><circle cx="571.87" cy="132.10" r="1.5"/><circle cx="575.09" cy="132.10" r="1.5"/><circle cx="578.30" cy="132.10" r="1.5"/><circle cx="581.52" cy="132.10" r="1.5"/><circle cx="584.73" cy="132.10" r="1.5"/><circle cx="587.95" cy="132.10" r="1.5"/><circle cx="591.17" cy="132.10" r="1.5"/><circle cx="594.38" cy="132.10" r="1.5"/><circle cx="597.60" cy="132.10" r="1.5"/><circle cx="600.81" cy="132.10" r="1.5"/><circle cx="604.03" cy="132.10" r="1.5"/><circle cx="607.25" cy="132.10" r="1.5"/><circle cx="610.46" cy="132.10" r="1.5"/><circle cx="613.68" cy="132.10" r="1.5"/><circle cx="616.89" cy="132.10" r="1.5"/><circle cx="620.11" cy="132.10" r="1.5"/><circle cx="623.33" cy="132.10" r="1.5"/><circle cx="626.54" cy="132.10" r="1.5"/><circle cx="629.76" cy="132.10" r="1.5"/><circle cx="632.97" cy="132.10" r="1.5"/><circle cx="636.19" cy="132.10" r="1.5"/><circle cx="639.41" cy="132.10" r="1.5"/><circle cx="642.62" cy="132.10" r="1.5"/><circle cx="645.84" cy="132.10" r="1.5"/><circle cx="649.06" cy="132.10" r="1.5"/><circle cx="652.27" cy="132.10" r="1.5"/><circle cx="655.49" cy="132.10" r="1.5"/><circle cx="658.70" cy="132.10" r="1.5"/><circle cx="661.92" cy="132.10" r="1.5"/><circle cx="665.14" cy="132.10" r="1.5"/><circle cx="668.35" cy="132.10" r="1.5"/><circle cx="671.57" cy="132.10" r="1.5"/><circle cx="674.78" cy="132.10" r="1.5"/><circle cx="678.00" cy="132.10" r="1.5"/></g></g>
<g font-size="16"><text x="38.00" y="360.7" text-anchor="middle">0</text><text x="102.00" y="360.7" text-anchor="middle">2</text><text x="166.00" y="360.7" text-anchor="middle">4</text><text x="230.00" y="360.7" text-anchor="middle">6</text><text x="294.00" y="360.7" text-anchor="middle">8</text><text x="358.00" y="360.7" text-anchor="middle">10</text><text x="422.00" y="360.7" text-anchor="middle">12</text><text x="486.00" y="360.7" text-anchor="middle">14</text><text x="550.00" y="360.7" text-anchor="middle">16</text><text x="614.00" y="360.7" text-anchor="middle">18</text><text x="678.00" y="360.7" text-anchor="middle">20</text><text x="32" y="33.35" text-anchor="end">2</text><text x="32" y="85.45" text-anchor="end">1</text><text x="32" y="137.55" text-anchor="end">0</text><text x="32" y="189.65" text-anchor="end">-1</text><text x="32" y="241.75" text-anchor="end">-2</text><text x="32" y="293.85" text-anchor="end">-3</text><text x="32" y="345.95" text-anchor="end">-4</text></g>
<path d="M40.4 16.6L47.3 23.5M47.3 16.6L40.4 23.5" stroke="#333" stroke-width="1.15"/>
<text x="50.7" y="24" font-size="16">10</text>
<text x="66.4" y="16.4" font-size="12.8">5</text>
<text x="358.3" y="11.1" font-size="17.2" font-weight="bold" text-anchor="middle" style="fill:#000">Filter Prediction vs. Ground Truth for Irregular Motion</text>
<text x="358" y="382.4" font-size="17.2" text-anchor="middle">Time (s)</text>
<text transform="translate(12 183.8) rotate(-90)" font-size="16.8" text-anchor="middle">Position</text>
<rect x="286.6" y="189.6" width="180.6" height="87.85" fill="#fff" stroke="#262626" stroke-width="1.1"/>
<g stroke-width="3" fill="none">
<path d="M290.3 199.5H329.7" stroke="#000"/>
<path d="M290.3 216.5H329.7" stroke="#00f" stroke-dasharray="8.1 7.4"/>
<path d="M290.3 233.5H329.7" stroke="#f0f" stroke-dasharray="7.7 1.9 4 1.9"/>
<path d="M290.3 250.4H329.7" stroke="#0e2" stroke-dasharray="2.4 1.479"/>
</g>
<circle cx="309.9" cy="267.4" r="1.75" fill="#0a8cff"/>
<g font-size="14">
<text x="332.3" y="205.0">Ground Truth</text>
<text x="332.3" y="222.05">Kalman Filter</text>
<text x="332.3" y="239.1">α-β-γ-δ Filter</text>
<text x="332.3" y="256.15">Deep Learning Tracker</text>
<text x="332.3" y="273.2">Noisy Measurements</text>
</g>
</svg>
</body></html>
